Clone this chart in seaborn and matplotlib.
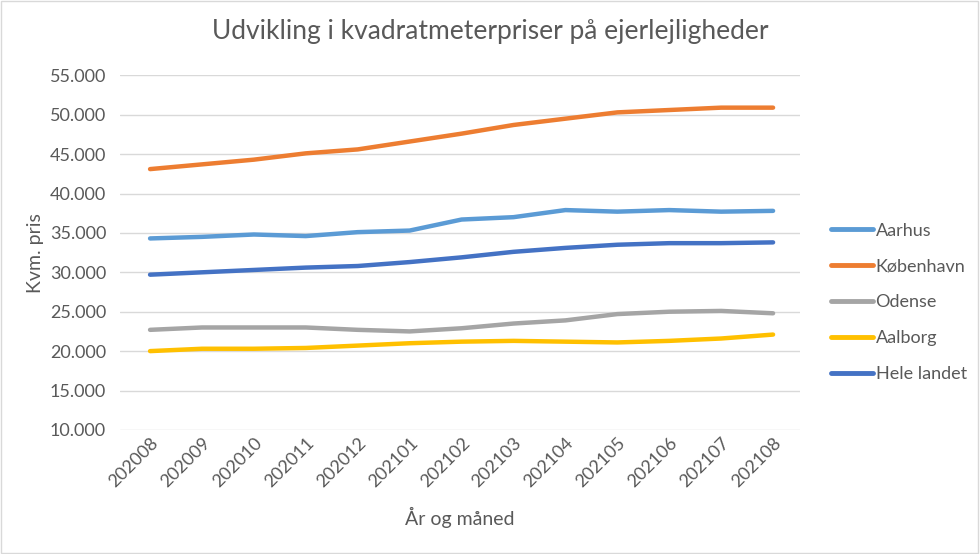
import matplotlib
matplotlib.use('Agg')
import matplotlib.pyplot as plt
import matplotlib.ticker as mticker
import pandas as pd
import seaborn as sns

# Months on the x axis
months = ['202008', '202009', '202010', '202011', '202012', '202101', '202102',
          '202103', '202104', '202105', '202106', '202107', '202108']

# Price per square metre
aarhus = [34300, 34500, 34800, 34600, 35100, 35300, 36700, 37000, 37900, 37700, 37900, 37700, 37800]
koebenhavn = [43100, 43700, 44300, 45100, 45600, 46600, 47600, 48700, 49500, 50300, 50600, 50900, 50900]
odense = [22700, 23000, 23000, 23000, 22700, 22500, 22900, 23500, 23900, 24700, 25000, 25100, 24800]
aalborg = [20000, 20300, 20300, 20400, 20700, 21000, 21200, 21300, 21200, 21100, 21300, 21600, 22100]
hele_landet = [29700, 30000, 30300, 30600, 30800, 31300, 31900, 32600, 33100, 33500, 33700, 33700, 33800]

series = ['Aarhus', 'København', 'Odense', 'Aalborg', 'Hele landet']
colors = ['#5B9BD5', '#ED7D31', '#A5A5A5', '#FFC000', '#4472C4']

df = pd.DataFrame({'Måned': months, 'Aarhus': aarhus, 'København': koebenhavn,
                   'Odense': odense, 'Aalborg': aalborg, 'Hele landet': hele_landet})
df = df.melt(id_vars='Måned', var_name='By', value_name='Pris')

sns.set_style('white')
plt.rcParams['font.family'] = ['Lato', 'DejaVu Sans']

fig = plt.figure(figsize=(9.8, 5.54), dpi=100)
ax = fig.add_axes([0.1224, 0.224, 0.694, 0.64])

sns.lineplot(data=df, x='Måned', y='Pris', hue='By', hue_order=series,
             palette=colors, linewidth=3.2, sort=False, ax=ax)

ax.set_ylim(10000, 55000)
ax.set_yticks(range(10000, 55001, 5000))
ax.yaxis.set_major_formatter(mticker.FuncFormatter(lambda v, p: f'{int(v):,}'.replace(',', '.')))
ax.grid(axis='y', color='#D9D9D9', linewidth=1)
ax.set_xlim(-0.58, len(months) - 0.48)
for s in ax.spines.values():
    s.set_visible(False)
ax.tick_params(axis='both', length=0, labelsize=13, colors='#595959')
plt.setp(ax.get_xticklabels(), rotation=45, ha='right', rotation_mode='anchor')
ax.tick_params(axis='y', pad=10)
ax.set_xlabel('År og måned', fontsize=14, color='#595959', labelpad=12)
ax.set_ylabel('Kvm. pris', fontsize=14, color='#595959', labelpad=4)

fig.suptitle('Udvikling i kvadratmeterpriser på ejerlejligheder', fontsize=19,
             color='#595959', y=0.965)

leg = ax.legend(loc='center left', bbox_to_anchor=(1.022, 0.36), frameon=False,
                fontsize=13, labelspacing=1.1, handlelength=2.3, handletextpad=0.15)
for t in leg.get_texts():
    t.set_color('#595959')
for h in leg.get_lines():
    h.set_linewidth(3.5)

fig.patches.append(plt.Rectangle((0.001, 0.002), 0.997, 0.996, transform=fig.transFigure,
                                 fill=False, edgecolor='#D9D9D9', linewidth=1))

fig.savefig('out.png', dpi=100)
